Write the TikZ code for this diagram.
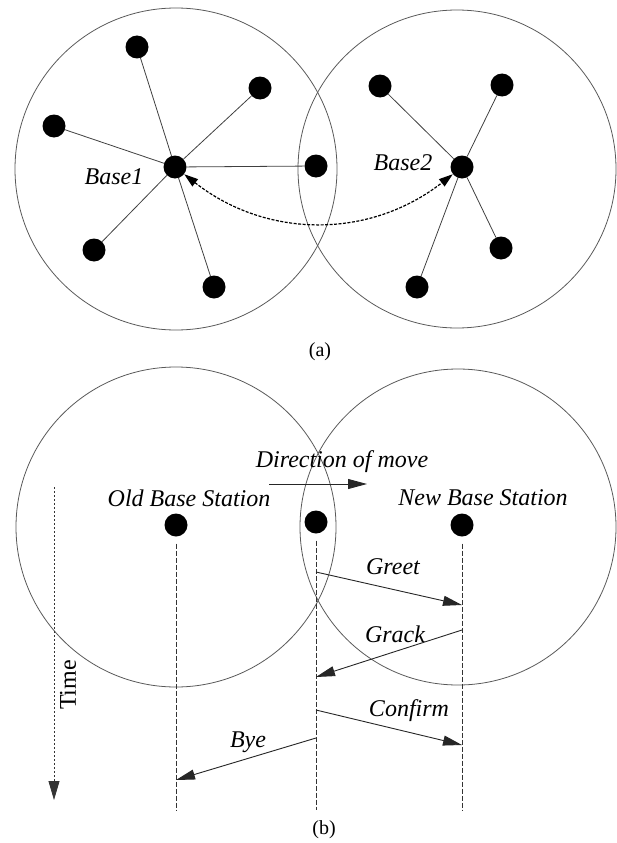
\documentclass[tikz,border=0pt]{standalone}
\usepackage{fontspec}
\setmainfont{Liberation Serif}
\usetikzlibrary{arrows.meta}
\begin{document}
\begin{tikzpicture}[x=1pt,y=-1pt,
  dot/.style={circle, fill=black, minimum size=23pt, inner sep=0pt},
  lbl/.style={font=\fontsize{24}{28}\selectfont\itshape, inner sep=0pt},
  sublabel/.style={font=\fontsize{20}{24}\selectfont, inner sep=0pt},
  cell/.style={line width=0.8pt, black!65},
  link/.style={line width=0.8pt, black!75},
  hand/.style={line width=1.2pt, dash pattern=on 3pt off 1.5pt,
    {Triangle[length=14pt,width=9pt]}-{Triangle[length=14pt,width=9pt]}},
  msg/.style={line width=0.9pt, black!85, -{Triangle[length=19pt,width=10pt]}},
  life/.style={line width=0.8pt, black!80, dash pattern=on 5pt off 2pt},
  timeline/.style={line width=0.8pt, black!80, dash pattern=on 2pt off 2pt,
    -{Triangle[length=19pt,width=11pt]}}]
\useasboundingbox (0,0) rectangle (616,843);

% ---------- (a) two cells with their stations ----------
\draw[cell] (176,169) circle[radius=161pt];
\draw[cell] (457,169) circle[radius=159pt];

\node[dot] (b1) at (175,167) {};
\node[dot] (b2) at (462,167) {};
\node[dot] (n1) at (137,47) {};
\node[dot] (n2) at (260,88) {};
\node[dot] (n3) at (54,126) {};
\node[dot] (n4) at (94,250) {};
\node[dot] (n5) at (214,287) {};
\node[dot] (n6) at (316,166) {};
\node[dot] (m1) at (380,86) {};
\node[dot] (m2) at (502,85) {};
\node[dot] (m3) at (501,248) {};
\node[dot] (m4) at (417,287) {};

\foreach \n in {n1,n2,n3,n4,n5,n6} \draw[link] (b1) -- (\n);
\foreach \n in {m1,m2,m3,m4} \draw[link] (b2) -- (\n);

\node[lbl] (lb1) at (114,177) {Base1};
\node[lbl] (lb2) at (403,163) {Base2};

\draw[hand] (b1) .. controls +(92,72) and +(-92,72) .. (b2);

\node[sublabel] (capa) at (320,352) {(a)};

% ---------- (b) handoff message sequence ----------
\draw[cell] (176,527) circle[radius=160pt];
\draw[cell] (458,527) circle[radius=158pt];

\node[dot] (old) at (176,525) {};
\node[dot] (mob) at (316,522) {};
\node[dot] (new) at (462,525) {};

\node[lbl] (lold) at (189,498) {Old Base Station};
\node[lbl] (lnew) at (483,498) {New Base Station};
\node[lbl] (ldir) at (342,462) {Direction of move};

\coordinate (d0) at (269,484);
\coordinate (d1) at (367,484);
\draw[msg] (d0) -- (d1);

% lifelines
\coordinate (oldend) at (176,810);
\coordinate (mobend) at (316,810);
\coordinate (newend) at (462,810);
\draw[life] ([yshift=-7pt]old.south) -- (oldend);
\draw[life] ([yshift=-7pt]mob.south) -- (mobend);
\draw[life] ([yshift=-7pt]new.south) -- (newend);

% time axis
\coordinate (t0) at (54,487);
\coordinate (t1) at (54,800);
\draw[timeline] (t0) -- (t1);
\node[font=\fontsize{24}{28}\selectfont, rotate=90, inner sep=0pt] (ltime) at (68,685) {Time};

% messages
\coordinate (g0) at (316,572);  \coordinate (g1) at (462,605);
\coordinate (k0) at (462,630);  \coordinate (k1) at (316,677);
\coordinate (c0) at (316,710);  \coordinate (c1) at (462,745);
\coordinate (y0) at (316,738);  \coordinate (y1) at (176,780);
\draw[msg] (g0) -- (g1);
\draw[msg] (k0) -- (k1);
\draw[msg] (c0) -- (c1);
\draw[msg] (y0) -- (y1);

\node[lbl] (lg) at (393,567) {Greet};
\node[lbl] (lk) at (395,634) {Grack};
\node[lbl] (lc) at (409,711) {Confirm};
\node[lbl] (ly) at (248,742) {Bye};

\node[sublabel] (capb) at (324,830) {(b)};
\end{tikzpicture}
\end{document}
